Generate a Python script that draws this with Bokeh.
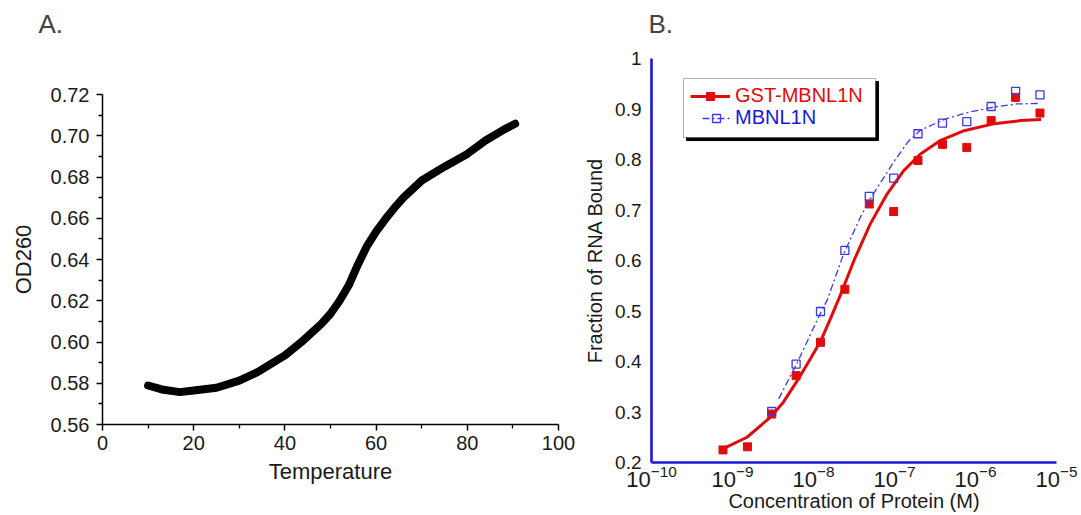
from bokeh.plotting import figure
from bokeh.layouts import row
from bokeh.models import (FixedTicker, NumeralTickFormatter, Legend, LegendItem,
                          BoxAnnotation, LogTickFormatter)
from bokeh.embed import file_html
from bokeh.resources import INLINE

FONT = "Liberation Sans"

# ---------------- Panel A data (melting curve) ----------------
temperature = [10, 13, 17, 20, 25, 30, 34, 40, 44, 48, 50, 52, 54, 56, 58, 60, 62,
               64, 66, 70, 75, 80, 84, 88, 90.5]
od260 = [0.5789, 0.5770, 0.5757, 0.5765, 0.5778, 0.5813, 0.5854, 0.5935, 0.6007,
         0.6088, 0.6137, 0.6200, 0.6275, 0.6375, 0.6465, 0.6535, 0.6595, 0.6650,
         0.6700, 0.6783, 0.6850, 0.6912, 0.6977, 0.7030, 0.7058]
a_xticks = [0, 20, 40, 60, 80, 100]
a_yticks = [0.56, 0.58, 0.60, 0.62, 0.64, 0.66, 0.68, 0.70, 0.72]

# ---------------- Panel B data (binding) ----------------
conc = [7.63e-10, 1.53e-9, 3.05e-9, 6.1e-9, 1.22e-8, 2.44e-8, 4.88e-8, 9.77e-8,
        1.95e-7, 3.91e-7, 7.81e-7, 1.56e-6, 3.125e-6, 6.25e-6]
gst_bound = [0.225, 0.231, 0.296, 0.372, 0.438, 0.543, 0.712, 0.697, 0.798, 0.830,
             0.824, 0.877, 0.923, 0.892]
mbnl_conc = [3.05e-9, 6.1e-9, 1.22e-8, 2.44e-8, 4.88e-8, 9.77e-8, 1.95e-7, 3.91e-7,
             7.81e-7, 1.56e-6, 3.125e-6, 6.25e-6]
mbnl_bound = [0.301, 0.395, 0.499, 0.620, 0.727, 0.763, 0.851, 0.872, 0.875, 0.905,
              0.935, 0.928]

gst_fit_x = [7.6e-10, 1.51e-9, 2.95e-9, 4.27e-9, 6.31e-9, 9.12e-9, 1.23e-8, 1.62e-8,
             2.19e-8, 3.16e-8, 5.01e-8, 8.13e-8, 1.30e-7, 2.09e-7, 3.72e-7, 7.24e-7,
             1.70e-6, 3.63e-6, 6.46e-6]
gst_fit_y = [0.227, 0.250, 0.290, 0.320, 0.362, 0.405, 0.441, 0.485, 0.535, 0.600,
             0.672, 0.732, 0.778, 0.811, 0.838, 0.857, 0.871, 0.877, 0.879]
mbnl_fit_x = [3.72e-9, 6.31e-9, 1.23e-8, 1.48e-8, 2.34e-8, 3.80e-8, 5.01e-8, 9.77e-8,
              1.45e-7, 2.09e-7, 4.07e-7, 7.94e-7, 1.70e-6, 3.24e-6, 6.31e-6]
mbnl_fit_y = [0.326, 0.398, 0.497, 0.522, 0.612, 0.686, 0.722, 0.795, 0.834, 0.858,
              0.879, 0.893, 0.904, 0.910, 0.911]
b_xticks = [1e-10, 1e-9, 1e-8, 1e-7, 1e-6, 1e-5]
b_yticks = [0.2, 0.3, 0.4, 0.5, 0.6, 0.7, 0.8, 0.9, 1.0]

RED = "#E00C0C"
BLUE = "#1818D8"
BLUE_M = "#3A3AE0"

# ================= Panel A =================
pA = figure(width=578, height=515, output_backend="svg", toolbar_location=None, tools="",
            x_range=(0, 100), y_range=(0.56, 0.72), title="A.\n\n",
            min_border_left=102, min_border_right=20, min_border_top=94, min_border_bottom=91)
pA.frame_align = False
pA.outline_line_color = None
pA.grid.visible = False
pA.title.text_font = FONT
pA.title.text_font_size = "26px"
pA.title.text_font_style = "normal"
pA.title.text_line_height = 0.8
pA.title.align = "left"
pA.title.vertical_align = "top"
pA.title.offset = -64
pA.title.standoff = 12

pA.line(temperature, od260, line_width=8, color="black", line_cap="round", line_join="round")

pA.xaxis.ticker = FixedTicker(ticks=a_xticks, minor_ticks=[10, 30, 50, 70, 90])
pA.yaxis.ticker = FixedTicker(ticks=a_yticks,
                              minor_ticks=[0.57, 0.59, 0.61, 0.63, 0.65, 0.67, 0.69, 0.71])
pA.yaxis.formatter = NumeralTickFormatter(format="0.00")
pA.xaxis.axis_label = "Temperature"
pA.yaxis.axis_label = "OD260"
for ax in (pA.xaxis, pA.yaxis):
    ax.axis_line_width = 1.5
    ax.axis_line_color = "black"
    ax.major_tick_line_width = 1.5
    ax.minor_tick_line_width = 1.3
    ax.major_tick_out = 6
    ax.major_tick_in = 0
    ax.minor_tick_out = 4
    ax.minor_tick_in = 0
    ax.major_label_text_font = FONT
    ax.major_label_text_font_size = "20px"
    ax.major_label_text_color = "#1a1a1a"
    ax.axis_label_text_font = FONT
    ax.axis_label_text_font_size = "22px"
    ax.axis_label_text_font_style = "normal"
    ax.axis_label_text_color = "#1a1a1a"
pA.xaxis.major_label_standoff = 5
pA.xaxis.axis_label_standoff = 6
pA.yaxis.major_label_standoff = 7
pA.yaxis.axis_label_standoff = 12

# ================= Panel B =================
pB = figure(width=503, height=515, output_backend="svg", toolbar_location=None, tools="",
            x_axis_type="log", x_range=(1e-10, 1e-5), y_range=(0.2, 1.0), title="B.\n",
            min_border_left=73, min_border_right=25, min_border_top=58, min_border_bottom=53)
pB.frame_align = False
pB.outline_line_color = None
pB.grid.visible = False
pB.title.text_font = FONT
pB.title.text_font_size = "26px"
pB.title.text_font_style = "normal"
pB.title.text_line_height = 0.55
pB.title.align = "left"
pB.title.vertical_align = "top"
pB.title.offset = -3
pB.title.standoff = 2

r_fit = pB.line(gst_fit_x, gst_fit_y, line_width=3, color=RED)
r_pts = pB.scatter(conc, gst_bound, marker="square", size=8, color=RED)
b_fit = pB.line(mbnl_fit_x, mbnl_fit_y, line_width=1.3, color=BLUE_M, line_dash="7 3 2 3")
b_pts = pB.scatter(mbnl_conc, mbnl_bound, marker="square", size=8, fill_color=None,
                   line_color=BLUE_M, line_width=1.3)

pB.xaxis.ticker = FixedTicker(ticks=b_xticks)
pB.xaxis.formatter = LogTickFormatter()
pB.yaxis.ticker = FixedTicker(ticks=b_yticks)
pB.yaxis.formatter = NumeralTickFormatter(format="0.[0]")
pB.xaxis.axis_label = "Concentration of Protein (M)"
pB.yaxis.axis_label = "Fraction of RNA Bound"
for ax in (pB.xaxis, pB.yaxis):
    ax.axis_line_width = 2.6
    ax.axis_line_color = BLUE
    ax.major_tick_out = 0
    ax.major_tick_in = 0
    ax.minor_tick_out = 0
    ax.minor_tick_in = 0
    ax.major_label_text_font = FONT
    ax.major_label_text_color = "#1a1a1a"
    ax.axis_label_text_font = FONT
    ax.axis_label_text_font_size = "20px"
    ax.axis_label_text_font_style = "normal"
    ax.axis_label_text_color = "#1a1a1a"
pB.yaxis.major_label_text_font_size = "19px"
pB.xaxis.major_label_text_font_size = "22px"
pB.xaxis.major_label_standoff = 2
pB.xaxis.axis_label_standoff = 0
pB.yaxis.major_label_standoff = 10
pB.yaxis.axis_label_standoff = 6

# legend frame (shadow + box)
shadow = BoxAnnotation(left=10 ** -9.568, right=10 ** -7.198, top=0.9544, bottom=0.8375,
                       fill_color="black", fill_alpha=1, line_color="black", line_alpha=1)
box = BoxAnnotation(left=10 ** -9.605, right=10 ** -7.235, top=0.9604, bottom=0.8434,
                    fill_color="white", fill_alpha=1, line_color="black", line_width=1)
pB.add_layout(shadow)
pB.add_layout(box)

leg1 = Legend(items=[LegendItem(label="GST-MBNL1N", renderers=[r_fit, r_pts])],
              location=(39, 355), glyph_width=40, glyph_height=20, label_standoff=5,
              padding=0, spacing=0, margin=0, border_line_alpha=0, background_fill_alpha=0,
              label_text_font=FONT, label_text_font_size="20px", label_text_color=RED)
leg2 = Legend(items=[LegendItem(label="MBNL1N", renderers=[b_fit, b_pts])],
              location=(51, 333), glyph_width=28, glyph_height=20, label_standoff=5,
              padding=0, spacing=0, margin=0, border_line_alpha=0, background_fill_alpha=0,
              label_text_font=FONT, label_text_font_size="20px", label_text_color=BLUE)
pB.add_layout(leg1)
pB.add_layout(leg2)

layout = row(pA, pB)
open("out.html", "w").write(file_html(layout, INLINE))
